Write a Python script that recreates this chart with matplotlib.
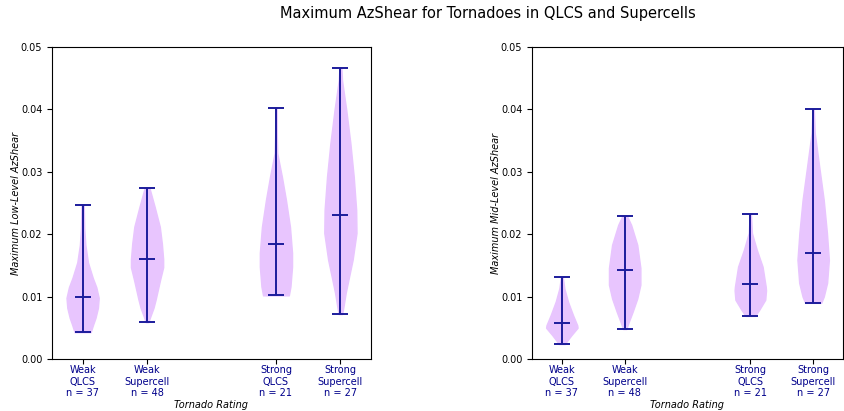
import matplotlib.pyplot as plt
import numpy as np

positions = [1, 2, 4, 5]
tick_labels = ["Weak\nQLCS\nn = 37", "Weak\nSupercell\nn = 48",
               "Strong\nQLCS\nn = 21", "Strong\nSupercell\nn = 27"]

# low-level azshear: min, max, mean per group
low_min = [0.0043, 0.0059, 0.0102, 0.0072]
low_max = [0.0247, 0.0274, 0.0403, 0.0467]
low_mean = [0.0099, 0.0160, 0.0184, 0.0231]
# density profile (y value, relative half width)
low_y = [
    [0.0043, 0.0055, 0.0066, 0.0082, 0.0098, 0.0115, 0.0130, 0.0155, 0.0183, 0.0210, 0.0247],
    [0.0059, 0.0068, 0.0082, 0.0095, 0.0127, 0.0147, 0.0160, 0.0185, 0.0212, 0.0244, 0.0274],
    [0.0102, 0.0116, 0.0148, 0.0170, 0.0212, 0.0255, 0.0292, 0.0330, 0.0360, 0.0403],
    [0.0072, 0.0079, 0.0106, 0.0132, 0.0159, 0.0202, 0.0239, 0.0292, 0.0346, 0.0400, 0.0447, 0.0467],
]
low_w = [
    [0.50, 0.65, 0.80, 0.95, 1.00, 0.85, 0.63, 0.33, 0.17, 0.10, 0.07],
    [0.08, 0.20, 0.40, 0.53, 0.81, 1.00, 1.00, 0.92, 0.79, 0.47, 0.15],
    [0.80, 0.90, 1.00, 1.00, 0.87, 0.62, 0.37, 0.08, 0.05, 0.04],
    [0.10, 0.16, 0.33, 0.54, 0.76, 1.00, 0.98, 0.83, 0.62, 0.36, 0.10, 0.06],
]

# mid-level azshear
mid_min = [0.0024, 0.0048, 0.0069, 0.0090]
mid_max = [0.0131, 0.0229, 0.0232, 0.0400]
mid_mean = [0.0058, 0.0143, 0.0120, 0.0170]
mid_y = [
    [0.0024, 0.0028, 0.0038, 0.0050, 0.0054, 0.0071, 0.0092, 0.0113, 0.0131],
    [0.0048, 0.0060, 0.0076, 0.0097, 0.0119, 0.0146, 0.0183, 0.0215, 0.0229],
    [0.0069, 0.0079, 0.0095, 0.0110, 0.0116, 0.0148, 0.0175, 0.0202, 0.0232],
    [0.0090, 0.0100, 0.0122, 0.0159, 0.0202, 0.0255, 0.0308, 0.0362, 0.0400],
]
mid_w = [
    [0.20, 0.30, 0.60, 1.00, 0.98, 0.70, 0.39, 0.16, 0.06],
    [0.10, 0.27, 0.51, 0.80, 1.00, 1.00, 0.80, 0.41, 0.15],
    [0.30, 0.57, 0.95, 1.00, 0.98, 0.78, 0.41, 0.10, 0.04],
    [0.50, 0.66, 0.87, 0.98, 0.86, 0.66, 0.38, 0.10, 0.04],
]

line_col = "#1c1c9c"
fill_col = "#e8c5fe"


def draw(ax, ys, ws, mins, maxs, means, ylabel):
    stats = []
    for y, w, lo, hi, m in zip(ys, ws, mins, maxs, means):
        stats.append({"coords": np.array(y), "vals": np.array(w),
                      "mean": m, "median": m, "min": lo, "max": hi})
    parts = ax.violin(stats, positions=positions, widths=0.5,
                      showmeans=True, showextrema=True)
    for b in parts["bodies"]:
        b.set_facecolor(fill_col)
        b.set_edgecolor(fill_col)
        b.set_alpha(1)
    for k in ("cmeans", "cmins", "cmaxes", "cbars"):
        parts[k].set_color(line_col)
        parts[k].set_linewidth(1.4)
    ax.set_ylim(0, 0.05)
    ax.set_yticks(np.arange(0, 0.051, 0.01))
    ax.yaxis.set_major_formatter(plt.FormatStrFormatter("%.2f"))
    ax.set_xticks(positions)
    ax.set_xticklabels(tick_labels, color="darkblue", fontsize=7, linespacing=1.2)
    ax.tick_params(axis="x", pad=0.8)
    ax.tick_params(axis="y", labelsize=7)
    ax.set_xlabel("Tornado Rating", style="italic", fontsize=7, labelpad=1)
    ax.set_ylabel(ylabel, style="italic", fontsize=7, labelpad=0)


fig = plt.figure(figsize=(8.44, 4.11), dpi=100)
ax1 = fig.add_axes([52 / 844, 52 / 411, 319 / 844, 312 / 411])
ax2 = fig.add_axes([532 / 844, 52 / 411, 311 / 844, 312 / 411])

draw(ax1, low_y, low_w, low_min, low_max, low_mean, "Maximum Low-Level AzShear")
draw(ax2, mid_y, mid_w, mid_min, mid_max, mid_mean, "Maximum Mid-Level AzShear")

fig.suptitle("Maximum AzShear for Tornadoes in QLCS and Supercells",
             x=488 / 844, y=0.985, fontsize=10.5)

fig.savefig("out.png", dpi=100)
